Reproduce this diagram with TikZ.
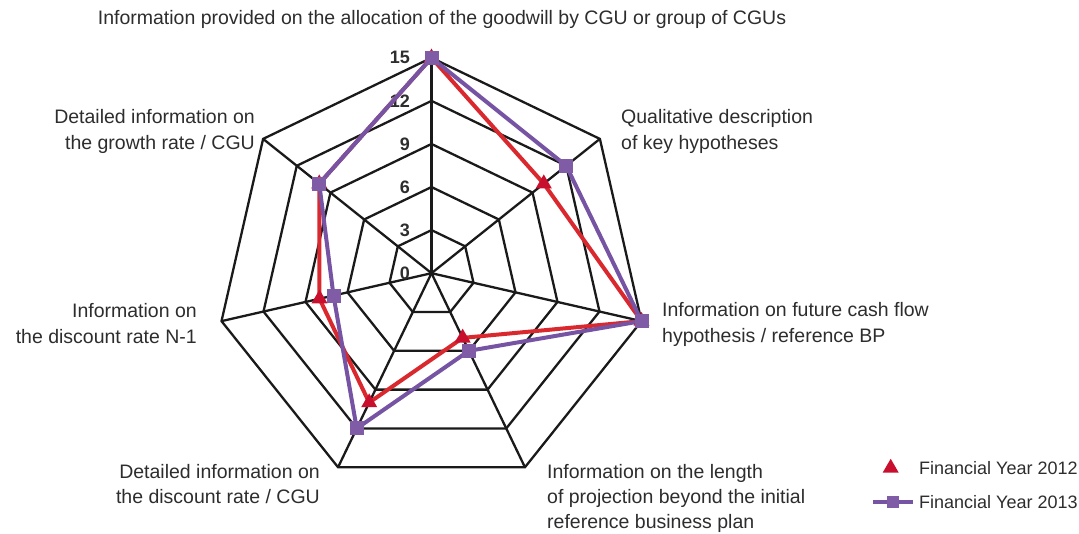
\documentclass[tikz,border=0pt]{standalone}
\usepackage{fontspec}
\setmainfont{Liberation Sans}
\usetikzlibrary{shapes.geometric}
\definecolor{gridc}{HTML}{1A1A1A}
\definecolor{txt}{HTML}{2D2D2D}
\definecolor{redline}{HTML}{DA292E}
\definecolor{redmark}{HTML}{C8102E}
\definecolor{purline}{HTML}{7654A3}
\definecolor{purmark}{HTML}{7F5CA5}
\newcommand\mylines[2]{\begin{tabular}[t]{@{}#1@{}}#2\end{tabular}}
\begin{document}
\begin{tikzpicture}[x=1pt,y=1pt,
  grid/.style={draw=gridc, line width=2.3pt, line join=miter},
  ser12/.style={draw=redline, line width=4pt, line join=round},
  ser13/.style={draw=purline, line width=4pt, line join=round},
  tri/.style={regular polygon, regular polygon sides=3, fill=redmark, draw=none, inner sep=0pt, minimum size=18.5pt},
  sq/.style={rectangle, fill=purmark, draw=none, inner sep=0pt, minimum size=14pt},
  lab/.style={font=\fontsize{19.5}{25.5}\selectfont, text=txt, inner sep=0pt},
  leglab/.style={font=\fontsize{18}{22}\selectfont, text=txt, inner sep=0pt},
  ylab/.style={font=\fontsize{18}{20}\selectfont\bfseries, text=txt, inner sep=0pt, anchor=east}
]
\useasboundingbox (0,-534) rectangle (1079,0);
\begin{scope}[shift={(431.5,-273.2)}]
  \coordinate (O) at (0,0);
  \foreach \v in {3,6,9,12,15}{
    \foreach \k in {1,...,7}{
      \coordinate (r\v-\k) at ({90-(\k-1)*360/7}:{\v*14.36});
    }
  }
  \foreach \k/\a/\b in {1/15/15, 2/10/12, 3/15/15, 4/5/6, 5/10/12, 6/8/7, 7/10/10}{
    \coordinate (p\k) at ({90-(\k-1)*360/7}:{\a*14.36});
    \coordinate (q\k) at ({90-(\k-1)*360/7}:{\b*14.36});
  }
\end{scope}
% grid
\foreach \v in {3,6,9,12,15}{
  \draw[grid] (r\v-1) -- (r\v-2) -- (r\v-3) -- (r\v-4) -- (r\v-5) -- (r\v-6) -- (r\v-7) -- cycle;
}
\foreach \k in {1,...,7}{
  \draw[grid] (O) -- (r15-\k);
}
% scale labels
\foreach \v in {0,3,6,9,12,15}{
  \node[ylab] (y\v) at (410,{-273.2+\v*14.36}) {\v};
}
% series
\draw[ser12] (p1) -- (p2) -- (p3) -- (p4) -- (p5) -- (p6) -- (p7) -- cycle;
\draw[ser13] (q1) -- (q2) -- (q3) -- (q4) -- (q5) -- (q6) -- (q7) -- cycle;
\foreach \k in {1,...,7}{
  \node[tri] (mp\k) at (p\k) {};
}
\foreach \k in {1,...,7}{
  \node[sq] (mq\k) at (q\k) {};
}
% axis labels
\node[lab, anchor=base] (t1) at (442,-25) {Information provided on the allocation of the goodwill by CGU or group of CGUs};
\node[lab, anchor=base west] (t2) at (621,-124) {\mylines{l}{Qualitative description\\of key hypotheses}};
\node[lab, anchor=base west] (t3) at (662,-317) {\mylines{l}{Information on future cash flow\\hypothesis / reference BP}};
\node[lab, anchor=base west] (t4) at (547,-478) {\mylines{l}{Information on the length\\of projection beyond the initial\\reference business plan}};
\node[lab, anchor=base east] (t5) at (320,-478) {\mylines{r}{Detailed information on\\the discount rate / CGU}};
\node[lab, anchor=base east] (t6) at (197,-318) {\mylines{r}{Information on\\the discount rate N-1}};
\node[lab, anchor=base east] (t7) at (255,-124) {\mylines{r}{Detailed information on\\the growth rate / CGU}};
% legend
\node[tri] (ltri) at (890.7,-468) {};
\node[leglab, anchor=base west] (lt1) at (919,-474) {Financial Year 2012};
\coordinate (la) at (873,-502);
\coordinate (lb) at (913,-502);
\draw[ser13] (la) -- (lb);
\node[sq, minimum size=12pt] (lsq) at (892.5,-502) {};
\node[leglab, anchor=base west] (lt2) at (919,-508) {Financial Year 2013};
\end{tikzpicture}
\end{document}
